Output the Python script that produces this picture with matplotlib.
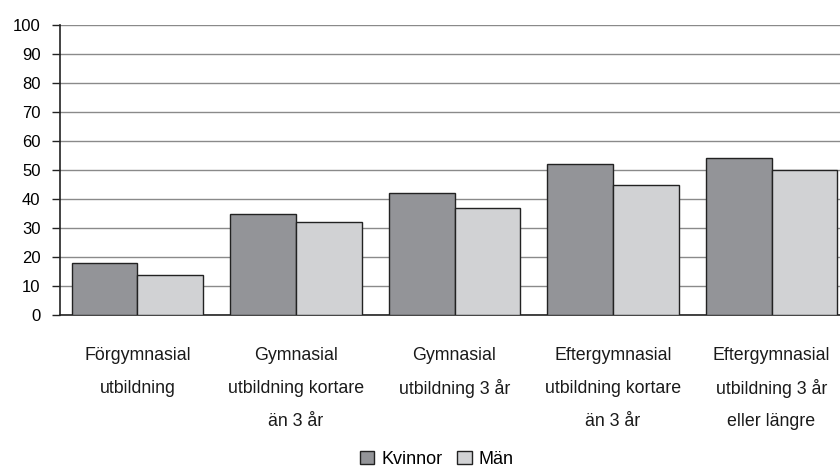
import numpy as np
import matplotlib.pyplot as plt
from matplotlib import font_manager

# pick a narrow sans if it is there
names = {f.name for f in font_manager.fontManager.ttflist}
if 'Liberation Sans Narrow' in names:
    plt.rcParams['font.family'] = ['Liberation Sans Narrow', 'DejaVu Sans']
else:
    plt.rcParams['font.family'] = ['Liberation Sans', 'DejaVu Sans']

categories = ['Förgymnasial\nutbildning',
              'Gymnasial\nutbildning kortare\nän 3 år',
              'Gymnasial\nutbildning 3 år',
              'Eftergymnasial\nutbildning kortare\nän 3 år',
              'Eftergymnasial\nutbildning 3 år\neller längre']
kvinnor = [18, 35, 42, 52, 54]
man = [14, 32, 37, 45, 50]
yticks = list(range(0, 101, 10))

fig = plt.figure(figsize=(8.4, 4.69), dpi=100)
ax = fig.add_axes([0.0714, 0.328, 0.9286, 0.619])

x = np.arange(len(categories))
w = 0.416
ax.bar(x - w/2, kvinnor, w, color='#939498', edgecolor='#222222', linewidth=1.0,
       label='Kvinnor', zorder=3)
ax.bar(x + w/2, man, w, color='#d1d2d4', edgecolor='#222222', linewidth=1.0,
       label='Män', zorder=3)

ax.set_ylim(0, 100)
ax.set_xlim(-0.489, 4.432)
ax.set_yticks(yticks)
ax.yaxis.grid(True, color='#8a8a8a', linewidth=1.0, zorder=0)
ax.set_axisbelow(True)

# category labels, one line at a time so the spacing stays even
ax.set_xticks(x)
ax.set_xticklabels([])
ax.tick_params(axis='x', length=0)
for i, lab in enumerate(categories):
    for j, line in enumerate(lab.split('\n')):
        ax.annotate(line, xy=(i, 0), xycoords=('data', 'axes fraction'),
                    xytext=(0, -(40 + 33 * j) * 0.72), textcoords='offset points',
                    ha='center', va='center', fontsize=12.8, color='#1a1a1a')

ax.tick_params(axis='y', length=6, width=1, pad=8, labelsize=12, color='#222222')

for s in ['top', 'right']:
    ax.spines[s].set_visible(False)
ax.spines['left'].set_color('#222222')
ax.spines['bottom'].set_color('#222222')
ax.spines['left'].set_linewidth(1.2)
ax.spines['bottom'].set_linewidth(1.2)

fig.legend(loc='center', bbox_to_anchor=(0.52, 0.021), ncol=2, frameon=False,
           fontsize=13, handlelength=0.8, handleheight=0.8, handletextpad=0.4,
           columnspacing=0.8)

fig.savefig('out.png', dpi=100)
